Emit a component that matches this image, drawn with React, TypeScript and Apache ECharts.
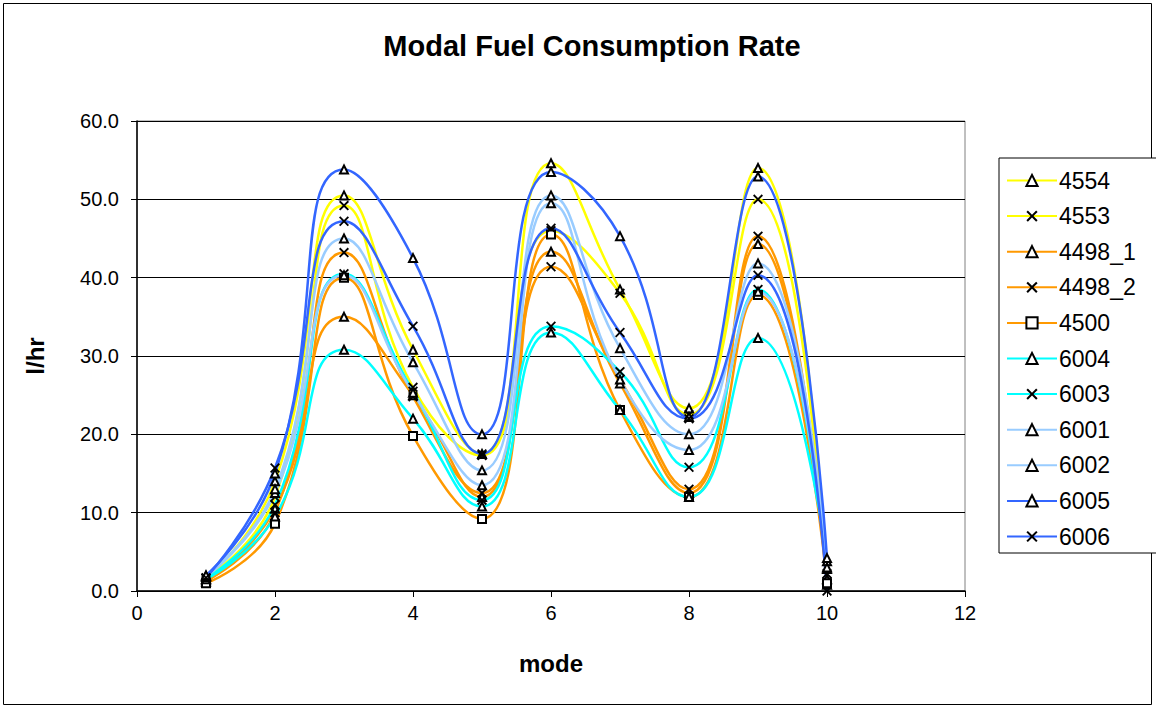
import React, { useEffect, useRef } from "react";
import * as echarts from "echarts";

const modes = [1, 2, 3, 4, 5, 6, 7, 8, 9, 10];
const seriesNames = ["4554", "4553", "4498_1", "4498_2", "4500", "6004", "6003", "6001", "6002", "6005", "6006"];
const s4554 = [1.5, 14.0, 50.5, 30.8, 17.5, 54.6, 38.5, 23.3, 54.0, 1.5];
const s4553 = [1.6, 12.0, 49.2, 26.0, 17.3, 46.0, 38.0, 22.5, 50.0, 1.0];
const s4498_1 = [1.2, 10.5, 35.0, 25.0, 12.0, 43.3, 26.5, 12.5, 44.3, 0.8];
const s4498_2 = [1.3, 10.0, 43.2, 24.8, 12.5, 41.4, 27.0, 13.0, 45.3, 1.2];
const s4500 = [1.0, 8.6, 40.0, 19.8, 9.2, 45.5, 23.1, 12.0, 37.8, 1.0];
const s6004 = [1.5, 9.5, 30.8, 22.0, 10.8, 33.0, 23.1, 12.0, 32.3, 3.8];
const s6003 = [1.6, 11.0, 40.5, 25.5, 11.6, 33.8, 28.0, 15.8, 38.5, 2.2];
const s6001 = [1.8, 12.5, 40.3, 25.3, 13.5, 49.5, 27.0, 18.0, 38.2, 2.8];
const s6002 = [1.9, 13.0, 45.0, 29.2, 15.4, 50.5, 31.0, 20.0, 41.8, 3.0];
const s6005 = [2.0, 15.0, 53.8, 42.5, 20.0, 53.5, 45.3, 22.2, 52.9, 4.2];
const s6006 = [1.7, 15.7, 47.2, 33.8, 17.5, 46.3, 33.0, 22.0, 40.3, 0.0];
const seriesValues = [s4554, s4553, s4498_1, s4498_2, s4500, s6004, s6003, s6001, s6002, s6005, s6006];
const xTicks = [0, 2, 4, 6, 8, 10, 12];

const colors = ["#FFFF00", "#FFFF00", "#FF9900", "#FF9900", "#FF9900", "#00FFFF", "#00FFFF", "#99CCFF", "#99CCFF", "#3366FF", "#3366FF"];
const XSYM = "path://M0,1.3L1.3,0L5,3.7L8.7,0L10,1.3L6.3,5L10,8.7L8.7,10L5,6.3L1.3,10L0,8.7L3.7,5Z";
const symbols = ["emptyTriangle", XSYM, "emptyTriangle", XSYM, "emptyRect", "emptyTriangle", XSYM, "emptyTriangle", "emptyTriangle", "emptyTriangle", XSYM];

const FONT = "'Liberation Sans', Arial, sans-serif";

export default function App() {
  const ref = useRef<HTMLDivElement>(null);
  useEffect(() => {
    if (!ref.current) return;
    const chart = echarts.init(ref.current, null, { renderer: "svg" });
    const series = seriesNames.map((name, i) => {
      const sym = symbols[i];
      const isX = sym === XSYM;
      return {
        name,
        type: "line",
        data: modes.map((m, j) => [m, seriesValues[i][j]]),
        smooth: 0.5,
        symbol: sym,
        symbolSize: isX ? 10 : 8,
        showAllSymbol: true,
        lineStyle: { color: colors[i], width: 2.5 },
        itemStyle: isX
          ? { color: "#000", borderColor: "#000", borderWidth: 0 }
          : { color: "#000", borderColor: "#000", borderWidth: 2 },
        emphasis: { disabled: true },
        z: 2,
      };
    });
    chart.setOption({
      animation: false,
      backgroundColor: "#fff",
      textStyle: { fontFamily: FONT },
      title: {
        text: "Modal Fuel Consumption Rate",
        left: 587,
        top: 26,
        textAlign: "center",
        textStyle: { fontFamily: FONT, fontSize: 29, fontWeight: "bold", color: "#000" },
      },
      graphic: [
        {
          type: "rect",
          shape: { x: 3.5, y: 3.5, width: 1148, height: 701 },
          style: { fill: "none", stroke: "#000", lineWidth: 1 },
          silent: true,
          z: 0,
        },
      ],
      legend: {
        orient: "vertical",
        left: 999,
        top: 158,
        width: 180,
        padding: [11, 60, 5, 7],
        itemGap: 12.6,
        itemWidth: 50,
        itemHeight: 14,
        borderColor: "#000",
        borderWidth: 1,
        backgroundColor: "#fff",
        textStyle: { fontFamily: FONT, fontSize: 23, lineHeight: 14, color: "#000", padding: [0, 0, 0, -3] },
        data: seriesNames,
      },
      grid: {
        left: 137,
        top: 121,
        right: 191,
        bottom: 118,
        show: true,
        borderColor: "#808080",
        borderWidth: 1,
        backgroundColor: "#fff",
      },
      xAxis: {
        type: "value",
        min: 0,
        max: 12,
        interval: 2,
        name: "mode",
        nameLocation: "middle",
        nameGap: 60,
        nameTextStyle: { fontFamily: FONT, fontSize: 24, fontWeight: "bold", color: "#000" },
        axisLine: { show: true, lineStyle: { color: "#000", width: 1.5 } },
        axisTick: { show: true, inside: false, length: 6, lineStyle: { color: "#000" } },
        axisLabel: {
          fontFamily: FONT,
          fontSize: 20,
          color: "#000",
          margin: 12,
          formatter: (v: number) => (xTicks.includes(v) ? String(v) : ""),
        },
        splitLine: { show: false },
      },
      yAxis: {
        type: "value",
        min: 0,
        max: 60,
        interval: 10,
        name: "l/hr",
        nameLocation: "middle",
        nameGap: 90,
        nameRotate: 90,
        nameTextStyle: { fontFamily: FONT, fontSize: 24, fontWeight: "bold", color: "#000" },
        axisLine: { show: true, lineStyle: { color: "#000", width: 1.5 } },
        axisTick: { show: true, inside: false, length: 6, lineStyle: { color: "#000" } },
        axisLabel: {
          fontFamily: FONT,
          fontSize: 20,
          color: "#000",
          margin: 18,
          formatter: (v: number) => v.toFixed(1),
        },
        splitLine: { show: true, lineStyle: { color: "#000", width: 1 } },
      },
      series,
    });
    return () => chart.dispose();
  }, []);
  return (
    <div
      ref={ref}
      style={{ position: "fixed", left: 0, top: 0, width: 1156, height: 709 }}
    />
  );
}
